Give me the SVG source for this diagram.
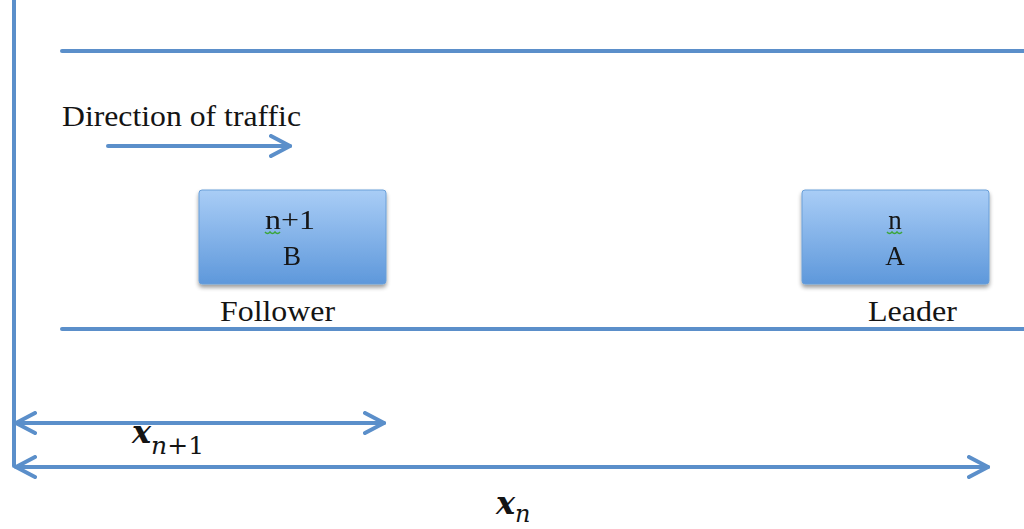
<svg xmlns="http://www.w3.org/2000/svg" width="1024" height="529" viewBox="0 0 1024 529">
<defs>
<linearGradient id="boxg" x1="0" y1="0" x2="0" y2="1">
<stop offset="0" stop-color="#a9cdf6"/>
<stop offset="1" stop-color="#5e98db"/>
</linearGradient>
<filter id="sh" x="-10%" y="-10%" width="130%" height="140%">
<feGaussianBlur in="SourceAlpha" stdDeviation="2"/>
<feOffset dx="0" dy="3"/>
<feComponentTransfer><feFuncA type="linear" slope="0.4"/></feComponentTransfer>
<feMerge><feMergeNode/><feMergeNode in="SourceGraphic"/></feMerge>
</filter>
<marker id="ah" viewBox="0 0 24 24" refX="21" refY="12" markerWidth="24" markerHeight="24" orient="auto-start-reverse" markerUnits="userSpaceOnUse">
<path d="M2,2 L21,12 L2,22" fill="none" stroke="#5b8fca" stroke-width="4" stroke-linecap="round" stroke-linejoin="round"/>
</marker>
</defs>
<style>
.ln{stroke:#5b8fca;stroke-width:4;fill:none;stroke-linecap:round}
.t{font-family:"Liberation Serif","DejaVu Serif",serif;fill:#141414}
.box{fill:url(#boxg);stroke:#6a9fd8;stroke-width:1}
.sq{fill:none;stroke:#3aa53a;stroke-width:1.5}
.m{font-family:"DejaVu Serif","Liberation Serif",serif;font-style:italic;fill:#141414}
</style>
<rect width="1024" height="529" fill="#ffffff"/>
<g id="road">
<line class="ln" x1="14" y1="0" x2="14" y2="466"/>
<line class="ln" x1="62" y1="51" x2="1024" y2="51"/>
<line class="ln" x1="62" y1="329" x2="1024" y2="329"/>
</g>
<g id="direction">
<text class="t" x="62" y="126" font-size="30" textLength="239" lengthAdjust="spacingAndGlyphs">Direction of traffic</text>
</g>
<g id="nodeB" filter="url(#sh)">
<rect class="box" x="199" y="190" width="187" height="94" rx="3"/>
<text class="t" x="265" y="229" font-size="27" textLength="50" lengthAdjust="spacingAndGlyphs">n+1</text>
<text class="t" x="292" y="265" font-size="27" text-anchor="middle">B</text>
<path class="sq" d="M265,232 q2.5,3 5,0 q2.5,3 5,0 q2.5,3 5,0"/>
</g>
<g id="nodeA" filter="url(#sh)">
<rect class="box" x="802" y="190" width="187" height="94" rx="3"/>
<text class="t" x="895" y="229" font-size="27" text-anchor="middle">n</text>
<text class="t" x="895" y="265" font-size="27" text-anchor="middle">A</text>
<path class="sq" d="M887,232 q2.5,3 5,0 q2.5,3 5,0 q2.5,3 5,0"/>
</g>
<g id="labels">
<text class="t" x="220" y="321" font-size="30" textLength="115" lengthAdjust="spacingAndGlyphs">Follower</text>
<text class="t" x="868" y="321" font-size="30" textLength="89" lengthAdjust="spacingAndGlyphs">Leader</text>
</g>
<g id="connectors">
<line class="ln" x1="108" y1="146" x2="290" y2="146" marker-end="url(#ah)"/>
<line class="ln" x1="16" y1="423" x2="384" y2="423" marker-start="url(#ah)" marker-end="url(#ah)"/>
<line class="ln" x1="16" y1="467" x2="988" y2="467" marker-start="url(#ah)" marker-end="url(#ah)"/>
</g>
<g id="math">
<text class="m" x="132" y="443" font-size="32" font-weight="bold">x<tspan font-size="25" font-weight="normal" dy="11">n</tspan><tspan font-style="normal" font-size="25" font-weight="normal">+1</tspan></text>
<text class="m" x="496" y="514" font-size="32" font-weight="bold">x<tspan font-size="24" font-weight="normal" dy="8">n</tspan></text>
</g>
</svg>
